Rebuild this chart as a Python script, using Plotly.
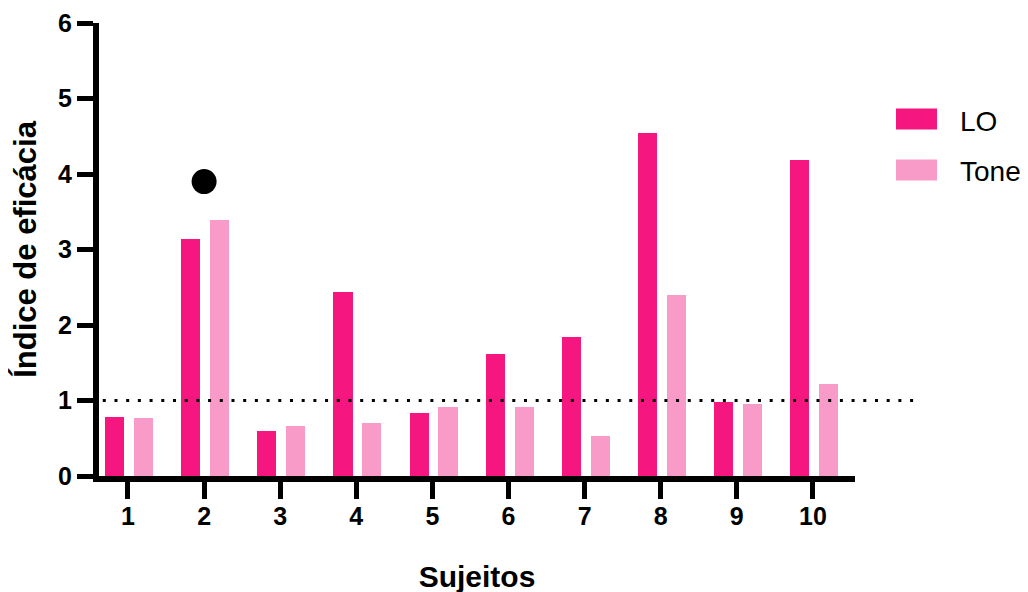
import plotly.graph_objects as go

subjects = [1, 2, 3, 4, 5, 6, 7, 8, 9, 10]
lo_values = [0.78, 3.14, 0.59, 2.44, 0.83, 1.61, 1.84, 4.54, 0.98, 4.19]
tone_values = [0.77, 3.39, 0.66, 0.70, 0.91, 0.91, 0.53, 2.40, 0.95, 1.22]
marker_x = [2]
marker_y = [3.90]
threshold = 1
series_names = ["LO", "Tone"]
colors = ["#F5177F", "#F99BC8"]

W, H = 1028, 592
OFF = 8  # page body margin
L, R, T, B = 91, 181, 15, 124
pw, ph = W - L - R, H - T - B

def px_x(p):
    return (p - OFF - L) / pw

def px_y(p):
    return (H - B - (p - OFF)) / ph

font_family = "Liberation Sans, Arial, sans-serif"

fig = go.Figure()
fig.add_trace(go.Bar(x=subjects, y=lo_values, name=series_names[0], marker_color=colors[0],
                     marker_line_width=0, width=0.25, offset=-0.30, showlegend=False))
fig.add_trace(go.Bar(x=subjects, y=tone_values, name=series_names[1], marker_color=colors[1],
                     marker_line_width=0, width=0.25, offset=0.08, showlegend=False))
fig.add_trace(go.Scatter(x=marker_x, y=marker_y, mode="markers",
                         marker=dict(color="black", size=25, line_width=0), showlegend=False))

# dotted reference line (extends past plot area)
fig.add_shape(type="line", xref="paper", yref="y", x0=0.005, x1=px_x(918), y0=threshold, y1=threshold,
              line=dict(color="black", width=3, dash="3px,8.7px"), layer="above")

# legend
legend_rows = [(119, 121.5, colors[0], series_names[0]), (170, 171.5, colors[1], series_names[1])]
for cy, ty, c, name in legend_rows:
    fig.add_shape(type="rect", xref="paper", yref="paper",
                  x0=px_x(896), x1=px_x(937), y0=px_y(cy - 10.5), y1=px_y(cy + 10.5),
                  fillcolor=c, line_width=0)
    fig.add_annotation(xref="paper", yref="paper", x=px_x(958), y=px_y(ty),
                       text=name, showarrow=False, xanchor="left", yanchor="middle",
                       font=dict(family=font_family, size=28, color="black"))

fig.update_layout(
    width=W, height=H,
    margin=dict(l=L, r=R, t=T, b=B, autoexpand=False),
    paper_bgcolor="white", plot_bgcolor="white",
    bargap=0,
    font=dict(family=font_family, color="black"),
)
fig.update_xaxes(
    range=[0.619, 10.553], tickvals=subjects, ticktext=[str(s) for s in subjects],
    showgrid=False, zeroline=False, showline=True, linecolor="black", linewidth=6,
    ticks="outside", ticklen=17, tickwidth=5, tickcolor="black",
    tickfont=dict(size=25, weight="bold", family=font_family), ticklabelstandoff=-4,
    title=dict(text="Sujeitos", font=dict(size=30, weight="bold", family=font_family), standoff=39),
)
fig.update_yaxes(
    range=[0, 6], tickvals=[0, 1, 2, 3, 4, 5, 6],
    showgrid=False, zeroline=False, showline=True, linecolor="black", linewidth=6,
    ticks="outside", ticklen=16, tickwidth=5, tickcolor="black",
    tickfont=dict(size=25, weight="bold", family=font_family),
    title=dict(text="Índice de eficácia", font=dict(size=31, weight="bold", family=font_family), standoff=16),
)

fig.write_html("out.html")
